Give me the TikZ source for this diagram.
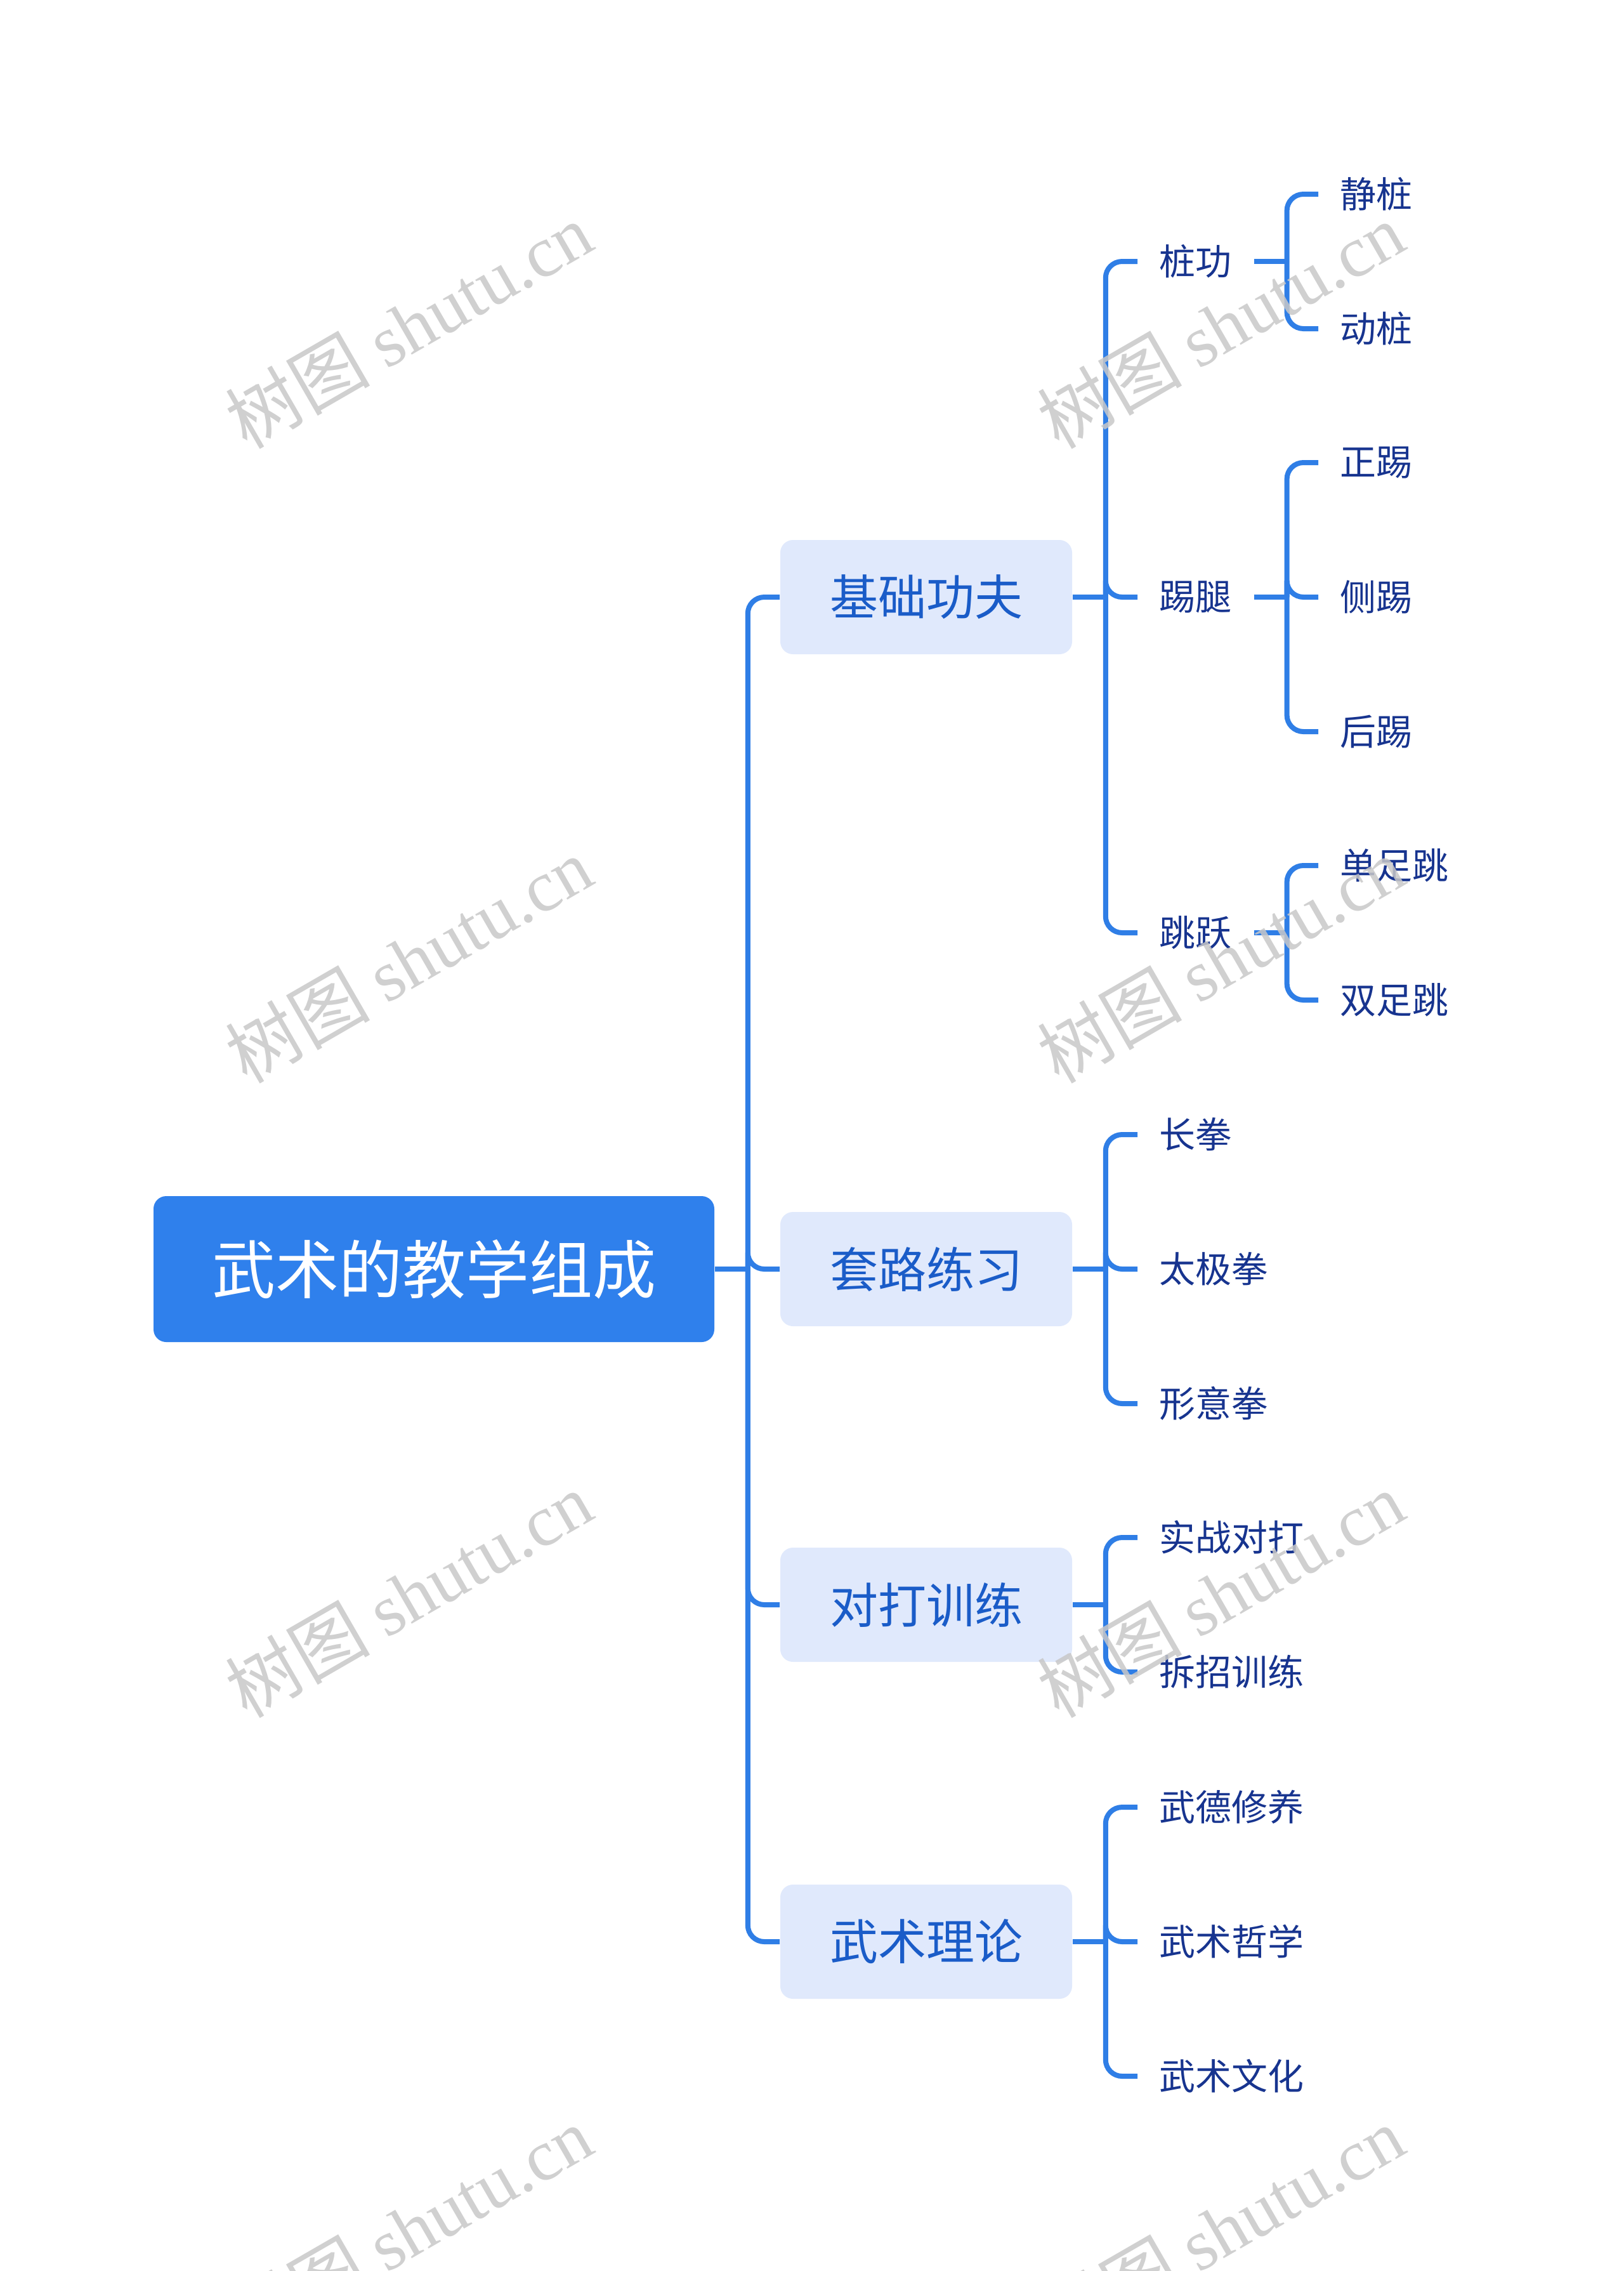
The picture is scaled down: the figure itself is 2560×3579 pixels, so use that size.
\documentclass[tikz,border=0pt]{standalone}
\usepackage{fontspec}
\setmainfont{Noto Sans CJK SC}
\newfontfamily\wmlat{Liberation Serif}
\newfontfamily\wmcjk{Noto Sans CJK SC}
\usetikzlibrary{calc}
\definecolor{lineblue}{HTML}{2F7EE6}
\definecolor{rootfill}{HTML}{2F80EC}
\definecolor{catfill}{HTML}{E0E9FC}
\definecolor{cattext}{HTML}{1A5CC8}
\definecolor{leaftext}{HTML}{17348F}
\definecolor{wmgray}{HTML}{C8C8C8}
\begin{document}
\begin{tikzpicture}[x=0.25pt,y=-0.25pt,
  rootbox/.style={fill=rootfill, rounded corners=5pt, minimum width=221pt, minimum height=57.5pt, text=white, font=\fontsize{25pt}{30pt}\selectfont, inner sep=0pt},
  catbox/.style={fill=catfill, rounded corners=5pt, minimum width=115pt, minimum height=45pt, text=cattext, font=\fontsize{19pt}{23pt}\selectfont, inner sep=0pt},
  leaf/.style={anchor=west, text=leaftext, font=\fontsize{14.25pt}{17pt}\selectfont, inner xsep=8.5pt, inner ysep=0pt},
  conn/.style={draw=lineblue, line width=2pt, rounded corners=6.5pt},
  wm/.style={text=wmgray, opacity=0.85, rotate=30, inner sep=0pt, font=\fontsize{28.5pt}{34pt}\selectfont}
]
\useasboundingbox[fill=white] (0,0) rectangle (2560,3579);

% root and categories
\node[rootbox] (root) at (684,2000) {武术的教学组成};
\node[catbox] (jc) at (1460,941) {基础功夫};
\node[catbox] (tl) at (1460,2000) {套路练习};
\node[catbox] (dd) at (1460,2529) {对打训练};
\node[catbox] (ll) at (1460,3060) {武术理论};

% level 2
\node[leaf] (zg) at (1793,412) {桩功};
\node[leaf] (tt) at (1793,941) {踢腿};
\node[leaf] (ty) at (1793,1470) {跳跃};
\node[leaf] (cq) at (1793,1788) {长拳};
\node[leaf] (tj) at (1793,2000) {太极拳};
\node[leaf] (xy) at (1793,2212) {形意拳};
\node[leaf] (sz) at (1793,2423) {实战对打};
\node[leaf] (cz) at (1793,2635) {拆招训练};
\node[leaf] (wd) at (1793,2848) {武德修养};
\node[leaf] (zx) at (1793,3060) {武术哲学};
\node[leaf] (wh) at (1793,3272) {武术文化};

% level 3
\node[leaf] (jz) at (2078,306) {静桩};
\node[leaf] (dz) at (2078,518) {动桩};
\node[leaf] (zt) at (2078,729) {正踢};
\node[leaf] (ct) at (2078,941) {侧踢};
\node[leaf] (ht) at (2078,1153) {后踢};
\node[leaf] (dzt) at (2078,1364) {单足跳};
\node[leaf] (szt) at (2078,1576) {双足跳};

% connectors: root
\draw[conn] (root.east) -- ++(13pt,0);
\foreach \c in {jc,tl,dd,ll}
  \draw[conn] ($(root.east)+(13pt,0)$) |- (\c.west);

% connectors: categories
\draw[conn] (jc.east) -- ++(13pt,0);
\foreach \c in {zg,tt,ty}
  \draw[conn] ($(jc.east)+(13pt,0)$) |- (\c.west);
\draw[conn] (tl.east) -- ++(13pt,0);
\foreach \c in {cq,tj,xy}
  \draw[conn] ($(tl.east)+(13pt,0)$) |- (\c.west);
\draw[conn] (dd.east) -- ++(13pt,0);
\foreach \c in {sz,cz}
  \draw[conn] ($(dd.east)+(13pt,0)$) |- (\c.west);
\draw[conn] (ll.east) -- ++(13pt,0);
\foreach \c in {wd,zx,wh}
  \draw[conn] ($(ll.east)+(13pt,0)$) |- (\c.west);

% connectors: level 2
\draw[conn] (zg.east) -- ++(13pt,0);
\foreach \c in {jz,dz}
  \draw[conn] ($(zg.east)+(13pt,0)$) |- (\c.west);
\draw[conn] (tt.east) -- ++(13pt,0);
\foreach \c in {zt,ct,ht}
  \draw[conn] ($(tt.east)+(13pt,0)$) |- (\c.west);
\draw[conn] (ty.east) -- ++(13pt,0);
\foreach \c in {dzt,szt}
  \draw[conn] ($(ty.east)+(13pt,0)$) |- (\c.west);

% watermarks
\foreach \wx/\wy/\n in {644/513/a,644/1513/b,644/2513/c,644/3513/d,1924/513/e,1924/1513/f,1924/2513/g,1924/3513/h}
  \node[wm] (wm\n) at (\wx,\wy) {{\wmcjk 树图} {\wmlat shutu.cn}};
\end{tikzpicture}
\end{document}
